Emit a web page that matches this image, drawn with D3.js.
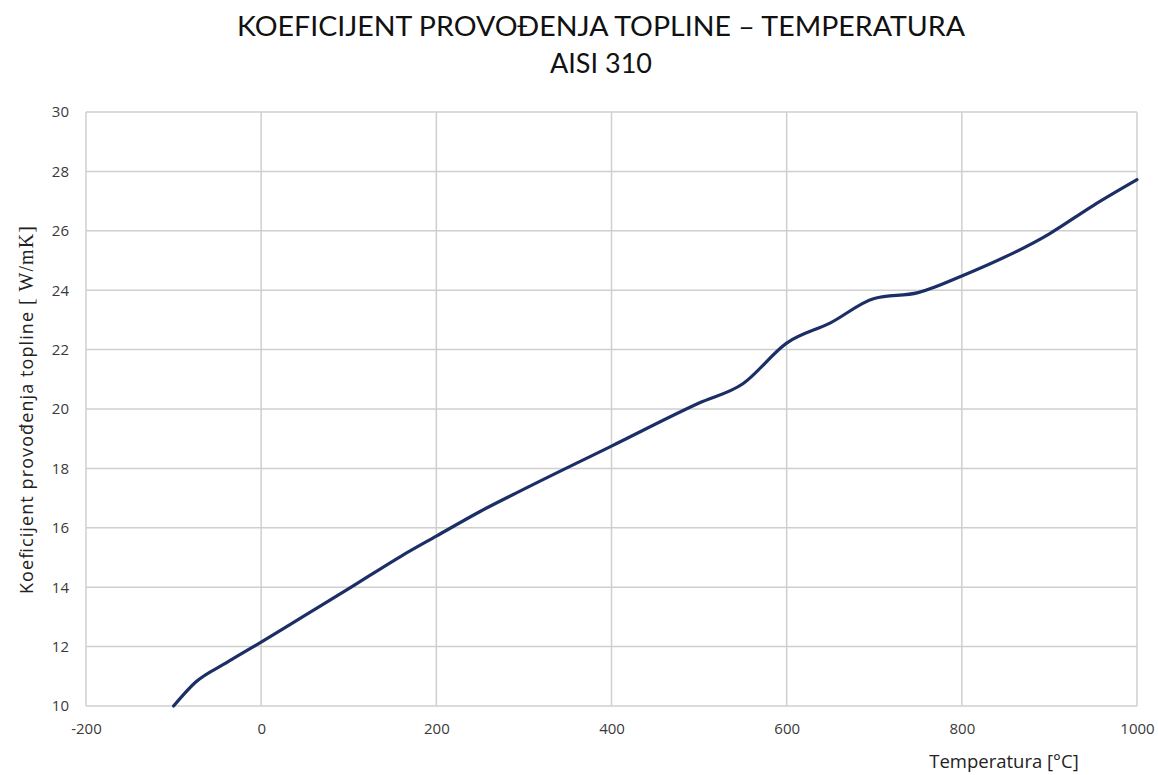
<!DOCTYPE html>
<html>
<head>
<meta charset="utf-8">
<script src="https://cdn.jsdelivr.net/npm/d3@7"></script>
<style>
  body { margin: 0; background: #fff; }
  .textos { font-family: "Open Sans", "Noto Sans", sans-serif; }
  .titulo { font-family: Lato, "Open Sans", sans-serif; }
  .grid line { stroke: #cfcfcf; stroke-width: 1.5; }
</style>
</head>
<body>
<div id="zona_grafica"></div>
<script>
// temperatura [°C] i koeficijent [W/mK], očitano sa slike
var temperatura = [-100, -75, -40, 0, 50, 100, 160, 200, 250, 300, 400, 500, 550, 600, 650, 700, 750, 800, 900, 950, 1000]
var koeficijent = [10.0, 10.8, 11.45, 12.15, 13.05, 13.95, 15.05, 15.72, 16.55, 17.3, 18.75, 20.2, 20.85, 22.22, 22.9, 23.72, 23.92, 24.48, 25.9, 26.85, 27.72]
var ticksX = [-200, 0, 200, 400, 600, 800, 1000]
var ticksY = [10, 12, 14, 16, 18, 20, 22, 24, 26, 28, 30]

var width = 1158, height = 775
var margin = {top: 112, right: 21, bottom: 69, left: 86}

var datos = temperatura.map((t, i) => ({t: t, k: koeficijent[i]}))

var escalaX = d3.scaleLinear()
    .domain([-200, 1000])
    .range([margin.left, width - margin.right])

var escalaY = d3.scaleLinear()
    .domain([10, 30])
    .range([height - margin.bottom, margin.top])

var svg = d3.select("#zona_grafica")
    .append("svg")
    .attr("width", width)
    .attr("height", height)

// Naslov
svg.append("text")
    .attr("class", "titulo")
    .attr("x", 601).attr("y", 36)
    .attr("text-anchor", "middle")
    .style("font-size", "27px")
    .attr("fill", "#111")
    .attr("textLength", 728)
    .attr("lengthAdjust", "spacingAndGlyphs")
    .text("KOEFICIJENT PROVOĐENJA TOPLINE \u2013 TEMPERATURA")
svg.append("text")
    .attr("class", "titulo")
    .attr("x", 601).attr("y", 73)
    .attr("text-anchor", "middle")
    .style("font-size", "27px")
    .attr("fill", "#111")
    .text("AISI 310")

// Mreža
svg.append("g")
    .attr("class", "grid")
    .selectAll("line")
    .data(ticksY).enter()
    .append("line")
    .attr("x1", margin.left).attr("x2", width - margin.right)
    .attr("y1", d => escalaY(d)).attr("y2", d => escalaY(d))

svg.append("g")
    .attr("class", "grid")
    .selectAll("line")
    .data(ticksX).enter()
    .append("line")
    .attr("x1", d => escalaX(d)).attr("x2", d => escalaX(d))
    .attr("y1", margin.top).attr("y2", height - margin.bottom)

// Osi
var ejeX = d3.axisBottom(escalaX).tickValues(ticksX).tickSize(0).tickPadding(17)
    .tickFormat(d => String(d))
var ejeY = d3.axisLeft(escalaY).tickValues(ticksY).tickSize(0).tickPadding(17)

svg.append("g")
    .attr("transform", "translate(0," + (height - margin.bottom) + ")")
    .call(ejeX)
    .call(g => g.select(".domain").remove())
    .attr("font-family", "'Open Sans', sans-serif")
    .attr("font-size", 15)
    .selectAll("text").attr("fill", "#3a3a3a")

svg.append("g")
    .attr("transform", "translate(" + margin.left + ",0)")
    .call(ejeY)
    .call(g => g.select(".domain").remove())
    .attr("font-family", "'Open Sans', sans-serif")
    .attr("font-size", 15)
    .selectAll("text").attr("fill", "#3a3a3a")

// Naslovi osi
svg.append("text")
    .attr("class", "textos")
    .attr("x", 1004).attr("y", 768)
    .attr("text-anchor", "middle")
    .style("font-size", "18.5px")
    .attr("fill", "#222")
    .text("Temperatura [°C]")

var yLab = svg.append("text")
    .attr("class", "textos")
    .attr("transform", "translate(33,410) rotate(-90)")
    .attr("text-anchor", "middle")
    .style("font-size", "18px")
    .attr("fill", "#222")
    .attr("textLength", 368)
    .attr("lengthAdjust", "spacing")
yLab.append("tspan").text("Koeficijent provođenja topline  ")
yLab.append("tspan")
    .style("font-family", "'Liberation Serif', 'DejaVu Serif', serif")
    .style("font-size", "20px")
    .text("[ W/mK]")

// Linija
var linea = d3.line()
    .x(d => escalaX(d.t))
    .y(d => escalaY(d.k))
    .curve(d3.curveMonotoneX)

svg.append("path")
    .datum(datos)
    .attr("d", linea)
    .attr("fill", "none")
    .attr("stroke", "#1b2f66")
    .attr("stroke-width", 3.2)
    .attr("stroke-linecap", "round")
</script>
</body>
</html>
